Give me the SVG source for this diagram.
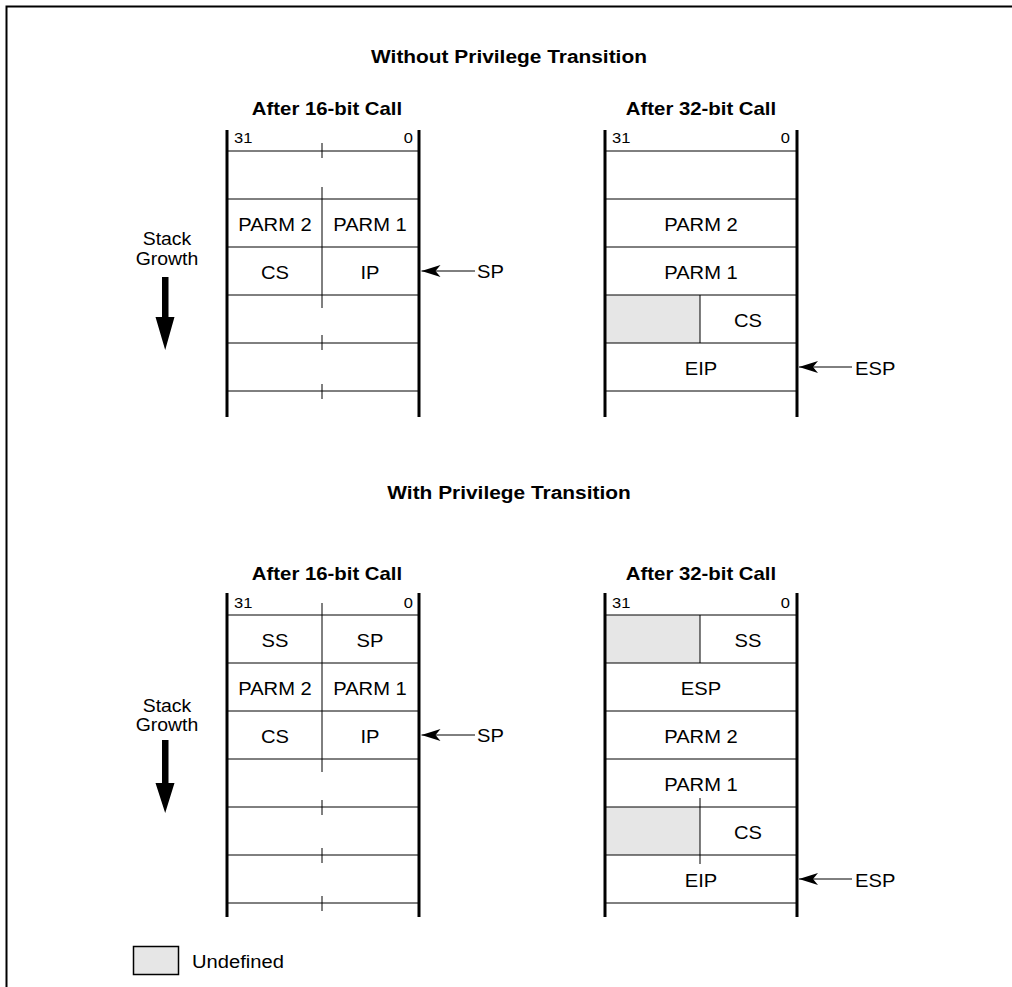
<svg xmlns="http://www.w3.org/2000/svg" width="1012" height="987" viewBox="0 0 1012 987">
<style>
text{font-family:"Liberation Sans",Arial,sans-serif;fill:#000}
.t{font-size:18.5px}
.b{font-size:17.7px;font-weight:bold}
.s{font-size:15px}
.m{text-anchor:middle}
.e{text-anchor:end}
.ln{stroke:#000;stroke-width:1;fill:none}
.wall{stroke:#000;stroke-width:3;fill:none}
.und{fill:#e6e6e6;stroke:none}
</style>
<defs>
<marker id="ah" markerUnits="userSpaceOnUse" viewBox="-1 -7 22 14" markerWidth="22" markerHeight="14" refX="0" refY="0" orient="auto">
<path d="M0,0 L19,-6 L14,0 L19,6 Z" fill="#000"/>
</marker>
</defs>
<rect width="1012" height="987" fill="#fff"/>
<g id="frame">
<path d="M6.5,987 V6.5 H1012" stroke="#000" stroke-width="2" fill="none"/>
</g>
<g id="titles">
<text class="b m" transform="translate(509,63) scale(1.18,1)">Without Privilege Transition</text>
<text class="b m" transform="translate(327,115) scale(1.15,1)">After 16-bit Call</text>
<text class="b m" transform="translate(701,115) scale(1.15,1)">After 32-bit Call</text>
<text class="b m" transform="translate(509,499) scale(1.18,1)">With Privilege Transition</text>
<text class="b m" transform="translate(327,580) scale(1.15,1)">After 16-bit Call</text>
<text class="b m" transform="translate(701,580) scale(1.15,1)">After 32-bit Call</text>
</g>
<g id="stack16-nopriv">
<path class="ln" d="M227,151H419M227,199H419M227,247H419M227,295H419M227,343H419M227,391H419"/>
<path class="ln" d="M322,143V158M322,187V308M322,335V350M322,384V399"/>
<path class="wall" d="M227,130V417M419,130V417"/>
<text class="s" transform="translate(234,143) scale(1.1,1)">31</text>
<text class="s e" transform="translate(413,143) scale(1.1,1)">0</text>
<text class="t m" transform="translate(275,231) scale(1.09,1)">PARM 2</text>
<text class="t m" transform="translate(370,231) scale(1.09,1)">PARM 1</text>
<text class="t m" transform="translate(275,279) scale(1.09,1)">CS</text>
<text class="t m" transform="translate(370,279) scale(1.09,1)">IP</text>
</g>
<g id="stack32-nopriv">
<rect class="und" x="605" y="295" width="95" height="48"/>
<path class="ln" d="M605,151H797M605,199H797M605,247H797M605,295H797M605,343H797M605,391H797"/>
<path class="ln" d="M700,295V343"/>
<path class="wall" d="M605,130V417M797,130V417"/>
<text class="s" transform="translate(612,143) scale(1.1,1)">31</text>
<text class="s e" transform="translate(790,143) scale(1.1,1)">0</text>
<text class="t m" transform="translate(701,231) scale(1.09,1)">PARM 2</text>
<text class="t m" transform="translate(701,279) scale(1.09,1)">PARM 1</text>
<text class="t m" transform="translate(748,327) scale(1.09,1)">CS</text>
<text class="t m" transform="translate(701,375) scale(1.09,1)">EIP</text>
</g>
<g id="stack16-priv">
<path class="ln" d="M227,615H419M227,663H419M227,711H419M227,759H419M227,807H419M227,855H419M227,903H419"/>
<path class="ln" d="M322,603V772M322,800V815M322,848V863M322,896V911"/>
<path class="wall" d="M227,593V917M419,593V917"/>
<text class="s" transform="translate(234,608) scale(1.1,1)">31</text>
<text class="s e" transform="translate(413,608) scale(1.1,1)">0</text>
<text class="t m" transform="translate(275,647) scale(1.09,1)">SS</text>
<text class="t m" transform="translate(370,647) scale(1.09,1)">SP</text>
<text class="t m" transform="translate(275,695) scale(1.09,1)">PARM 2</text>
<text class="t m" transform="translate(370,695) scale(1.09,1)">PARM 1</text>
<text class="t m" transform="translate(275,743) scale(1.09,1)">CS</text>
<text class="t m" transform="translate(370,743) scale(1.09,1)">IP</text>
</g>
<g id="stack32-priv">
<rect class="und" x="605" y="615" width="95" height="48"/>
<rect class="und" x="605" y="807" width="95" height="48"/>
<path class="ln" d="M605,615H797M605,663H797M605,711H797M605,759H797M605,807H797M605,855H797M605,903H797"/>
<path class="ln" d="M700,615V663M700,798V864"/>
<path class="wall" d="M605,593V917M797,593V917"/>
<text class="s" transform="translate(612,608) scale(1.1,1)">31</text>
<text class="s e" transform="translate(790,608) scale(1.1,1)">0</text>
<text class="t m" transform="translate(748,647) scale(1.09,1)">SS</text>
<text class="t m" transform="translate(701,695) scale(1.09,1)">ESP</text>
<text class="t m" transform="translate(701,743) scale(1.09,1)">PARM 2</text>
<text class="t m" transform="translate(701,791) scale(1.09,1)">PARM 1</text>
<text class="t m" transform="translate(748,839) scale(1.09,1)">CS</text>
<text class="t m" transform="translate(701,887) scale(1.09,1)">EIP</text>
</g>
<g id="growth-top">
<text class="t m" transform="translate(167,245) scale(1.05,1)">Stack</text>
<text class="t m" transform="translate(167,265) scale(1.05,1)">Growth</text>
</g>
<g id="growth-bottom">
<text class="t m" transform="translate(167,712) scale(1.05,1)">Stack</text>
<text class="t m" transform="translate(167,731) scale(1.05,1)">Growth</text>
</g>
<g id="pointer-labels">
<text class="t" transform="translate(477,278) scale(1.09,1)">SP</text>
<text class="t" transform="translate(855,375) scale(1.09,1)">ESP</text>
<text class="t" transform="translate(477,742) scale(1.09,1)">SP</text>
<text class="t" transform="translate(855,887) scale(1.09,1)">ESP</text>
</g>
<g id="connectors">
<line class="ln" x1="421.5" y1="271" x2="475" y2="271" marker-start="url(#ah)"/>
<line class="ln" x1="799" y1="367" x2="852" y2="367" marker-start="url(#ah)"/>
<line class="ln" x1="421.5" y1="735" x2="475" y2="735" marker-start="url(#ah)"/>
<line class="ln" x1="799" y1="879" x2="852" y2="879" marker-start="url(#ah)"/>
<path d="M162,277H168.5V317H174.5L165.2,350L155.5,317H162Z" fill="#000"/>
<path d="M162,740H168.5V783H174.5L165.2,813L155.5,783H162Z" fill="#000"/>
</g>
<g id="legend">
<rect x="133.5" y="946.5" width="45" height="28" fill="#e6e6e6" stroke="#000" stroke-width="1.5"/>
<text class="t" transform="translate(192,968) scale(1.09,1)">Undefined</text>
</g>
</svg>
